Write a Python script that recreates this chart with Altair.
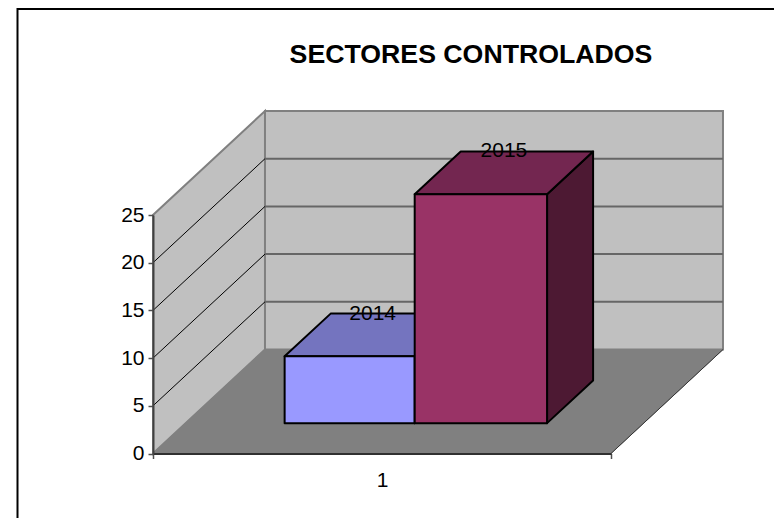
import altair as alt
import pandas as pd

# Chart values
years = ["2014", "2015"]
values = [7, 24]
colors_front = ["#9999FF", "#993366"]
colors_top = ["#7474BF", "#732650"]
colors_side = ["#4D4D80", "#4D1933"]
grid_values = [5, 10, 15, 20, 25]
y_ticks = [0, 5, 10, 15, 20, 25]
title_text = "SECTORES CONTROLADOS"

# 3-D projection of the data space: depth 1 shifts x and y by these amounts
DX, DY = 0.2445, 10.9
BAR_D0, BAR_D1 = 0.292, 0.703
BAR_EDGES = [0.216, 0.5, 0.789]
YMAX = 25
FONT = "Liberation Sans, Arial"
W, H = 458, 238.5

xs = alt.Scale(domain=[0, 1], range=[0, W], nice=False, zero=False)
ys = alt.Scale(domain=[0, YMAX], nice=False, zero=False)

x_axis = alt.Axis(
    values=[0, 0.5, 1], grid=False, zindex=1, title=None,
    labelExpr="datum.value == 0.5 ? '1' : ''",
    tickOpacity={"condition": {"test": "datum.value == 0.5", "value": 0}, "value": 1},
    labelFont=FONT, labelFontSize=21, labelColor="black", labelAngle=0, labelPadding=11,
    tickSize=5, tickWidth=1.5, tickColor="#505050", domainColor="#303030", domainWidth=2,
)
y_axis = alt.Axis(
    values=y_ticks, grid=False, zindex=1, title=None,
    labelFont=FONT, labelFontSize=21, labelColor="black", labelPadding=4,
    tickSize=5, tickWidth=1.5, tickColor="#505050", domainColor="#404040", domainWidth=2,
)
X = lambda f: alt.X(f, scale=xs, axis=x_axis)
Y = lambda f: alt.Y(f, scale=ys, axis=y_axis)


def vertical(rows, **mark):
    """Polygon with vertical left/right sides."""
    return alt.Chart(pd.DataFrame(rows, columns=["x", "y", "y2"])).mark_area(
        interpolate="linear", orient="vertical", clip=False, **mark
    ).encode(x=X("x:Q"), y=Y("y:Q"), y2="y2:Q")


def horizontal(rows, **mark):
    """Polygon with horizontal top/bottom sides."""
    return alt.Chart(pd.DataFrame(rows, columns=["y", "x", "x2"])).mark_area(
        interpolate="linear", orient="horizontal", clip=False, **mark
    ).encode(y=Y("y:Q"), x=X("x:Q"), x2="x2:Q")


def rules(rows, **mark):
    return alt.Chart(pd.DataFrame(rows, columns=["x", "x2", "y", "y2"])).mark_rule(clip=False, **mark).encode(
        x=X("x:Q"), x2="x2:Q", y=Y("y:Q"), y2="y2:Q"
    )


frame = alt.Chart(pd.DataFrame({"a": [0]})).mark_rect(
    fill="white", stroke="black", strokeWidth=2
).encode(
    x=alt.value(-135.5), x2=alt.value(626), y=alt.value(-206), y2=alt.value(308)
)

GREY = "#808080"
left_wall = vertical([[0, 0, YMAX], [DX, DY, DY + YMAX]], color="#C0C0C0", stroke=GREY, strokeWidth=2)
back_wall = vertical([[DX, DY, DY + YMAX], [1 + DX, DY, DY + YMAX]], color="#C0C0C0", stroke=GREY, strokeWidth=2)
floor = horizontal([[0, 0, 1], [DY, DX, 1 + DX]], color=GREY, stroke=GREY, strokeWidth=1)
floor_edge = rules([[1, 1 + DX, 0, DY]], color="#333333", strokeWidth=1)

side_grid = rules([[0, DX, v, v + DY] for v in grid_values[:-1]], color="black", strokeWidth=1)
back_grid = rules([[DX, 1 + DX, v + DY, v + DY] for v in grid_values[:-1]], color="#666666", strokeWidth=2)

bars = []
for i, (v, cf, ct, cs) in enumerate(zip(values, colors_front, colors_top, colors_side)):
    x0, x1 = BAR_EDGES[i], BAR_EDGES[i + 1]
    f0x, f1x = x0 + BAR_D0 * DX, x1 + BAR_D0 * DX
    b0x, b1x = x0 + BAR_D1 * DX, x1 + BAR_D1 * DX
    fy, by = BAR_D0 * DY, BAR_D1 * DY
    st = dict(stroke="black", strokeWidth=2, strokeJoin="round")
    bars.append(vertical([[f1x, fy, fy + v], [b1x, by, by + v]], color=cs, **st))
    bars.append(horizontal([[fy + v, f0x, f1x], [by + v, b0x, b1x]], color=ct, **st))
    bars.append(vertical([[f0x, fy, fy + v], [f1x, fy, fy + v]], color=cf, **st))

label_df = pd.DataFrame({
    "t": years,
    "x": [(BAR_EDGES[i] + BAR_EDGES[i + 1]) / 2 + (BAR_D0 + BAR_D1) / 2 * DX for i in range(2)],
    "y": [values[i] + BAR_D1 * DY for i in range(2)],
})
labels = alt.Chart(label_df).mark_text(
    font=FONT, fontSize=21, color="black", baseline="middle", align="center", clip=False
).encode(x=X("x:Q"), y=Y("y:Q"), text="t:N")

chart = alt.layer(
    frame, left_wall, back_wall, floor, floor_edge, side_grid, back_grid, *bars, labels
).properties(
    width=W, height=H,
    title=alt.TitleParams(
        title_text, font=FONT, fontSize=26.7, fontWeight="bold", color="black",
        anchor="middle", frame="group", dx=89, offset=-61,
    ),
    autosize=alt.AutoSizeParams(type="none"),
    padding={"left": 145, "top": 207, "right": 163, "bottom": 64.5},
).configure_view(stroke=None)

chart.save("out.html", embed_options={"renderer": "svg", "actions": False})
